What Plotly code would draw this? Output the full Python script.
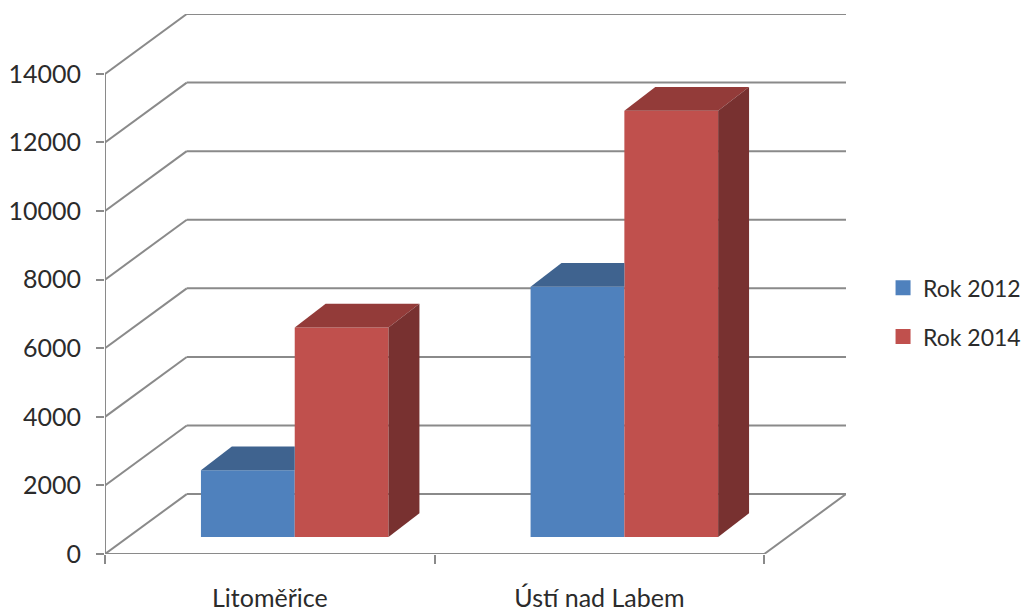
import plotly.graph_objects as go

# Chart data
categories = ["Litoměřice", "Ústí nad Labem"]
series_names = ["Rok 2012", "Rok 2014"]
values_2012 = [1950, 7300]
values_2014 = [6110, 12430]
y_ticks = [0, 2000, 4000, 6000, 8000, 10000, 12000, 14000]

# Oblique projection, expressed in axis units
WALL_DX, WALL_DY = 0.248, 1746     # offset from the front edge to the back wall
FLOOR_DX, FLOOR_DY = 0.0756, 495   # where the bar fronts stand on the floor
BAR_DX, BAR_DY = 0.0938, 690       # depth of each bar
BAR_W = 0.2845
N_CAT = len(categories)

GRID = "#8a8a8a"
TEXT = "#2b2b2b"
FONT = "Lato"
COLORS = {
    "front": ["#4F81BD", "#C0504D"],
    "top": ["#3F638F", "#933B39"],
    "side": ["#345478", "#783130"],
}


def gridline_shapes():
    """Back wall, side wall and floor lines, kept below the bars."""
    line = dict(color=GRID, width=2)
    shapes = []
    def seg(x0, y0, x1, y1):
        shapes.append(dict(type="line", xref="x", yref="y", layer="below",
                           x0=x0, y0=y0, x1=x1, y1=y1, line=line))
    for v in y_ticks:
        seg(0, v, WALL_DX, v + WALL_DY)
        seg(WALL_DX, v + WALL_DY, N_CAT + WALL_DX, v + WALL_DY)
    seg(0, 0, 0, y_ticks[-1])
    seg(0, 0, N_CAT, 0)
    seg(N_CAT, 0, N_CAT + WALL_DX, WALL_DY)
    return shapes


fig = go.Figure()
series = [values_2012, values_2014]

# Front faces
for s, (name, vals) in enumerate(zip(series_names, series)):
    xs = [i + 0.5 + FLOOR_DX + (s - 0.5) * BAR_W for i in range(N_CAT)]
    fig.add_trace(go.Bar(x=xs, y=vals, base=FLOOR_DY, width=BAR_W, name=name,
                         marker=dict(color=COLORS["front"][s], line=dict(width=0)),
                         showlegend=False))

# Top and side faces; the shorter bar's top stops where the taller one begins
for s, vals in enumerate(series):
    for i, v in enumerate(vals):
        left = i + 0.5 + FLOOR_DX + (s - 1) * BAR_W
        right = left + BAR_W
        top = FLOOR_DY + v
        hidden = s == 0 and series[1][i] >= v
        back_right = right if hidden else right + BAR_DX
        fig.add_trace(go.Scatter(
            x=[left, left + BAR_DX, back_right, right, left],
            y=[top, top + BAR_DY, top + BAR_DY, top, top],
            mode="lines", fill="toself", fillcolor=COLORS["top"][s],
            line=dict(width=0), showlegend=False, hoverinfo="skip"))
        if not hidden:
            fig.add_trace(go.Scatter(
                x=[right, right + BAR_DX, right + BAR_DX, right, right],
                y=[FLOOR_DY, FLOOR_DY + BAR_DY, top + BAR_DY, top, FLOOR_DY],
                mode="lines", fill="toself", fillcolor=COLORS["side"][s],
                line=dict(width=0), showlegend=False, hoverinfo="skip"))

# Legend keys
for s, name in enumerate(series_names):
    fig.add_trace(go.Scatter(x=[None], y=[None], mode="markers", name=name,
                             legendgroup=name,
                             marker=dict(symbol="square", size=15,
                                         color=COLORS["front"][s])))

fig.update_layout(
    width=1029, height=611,
    margin=dict(l=105, r=183, t=14, b=57, autoexpand=False),
    paper_bgcolor="white", plot_bgcolor="white",
    barmode="overlay",
    font=dict(family=FONT, size=25, color=TEXT),
    shapes=gridline_shapes(),
    legend=dict(x=1.05, y=0.533, xanchor="left", yanchor="top",
                font=dict(family=FONT, size=23, color=TEXT),
                tracegroupgap=16, itemwidth=30),
    xaxis=dict(range=[0, N_CAT + WALL_DX], showgrid=False, zeroline=False,
               showline=False, tickmode="array",
               tickvals=[i + 0.5 for i in range(N_CAT)], ticktext=categories,
               ticks="", ticklabelstandoff=27,
               minor=dict(tickmode="array", tickvals=list(range(N_CAT + 1)),
                          ticks="outside", ticklen=9, tickwidth=2, tickcolor=GRID)),
    yaxis=dict(range=[0, y_ticks[-1] + WALL_DY], showgrid=False, zeroline=False,
               showline=False, tickmode="array", tickvals=y_ticks,
               ticktext=[str(v) for v in y_ticks],
               ticks="outside", ticklen=8, tickwidth=2, tickcolor=GRID,
               ticklabelstandoff=10),
)

fig.write_html("out.html")
